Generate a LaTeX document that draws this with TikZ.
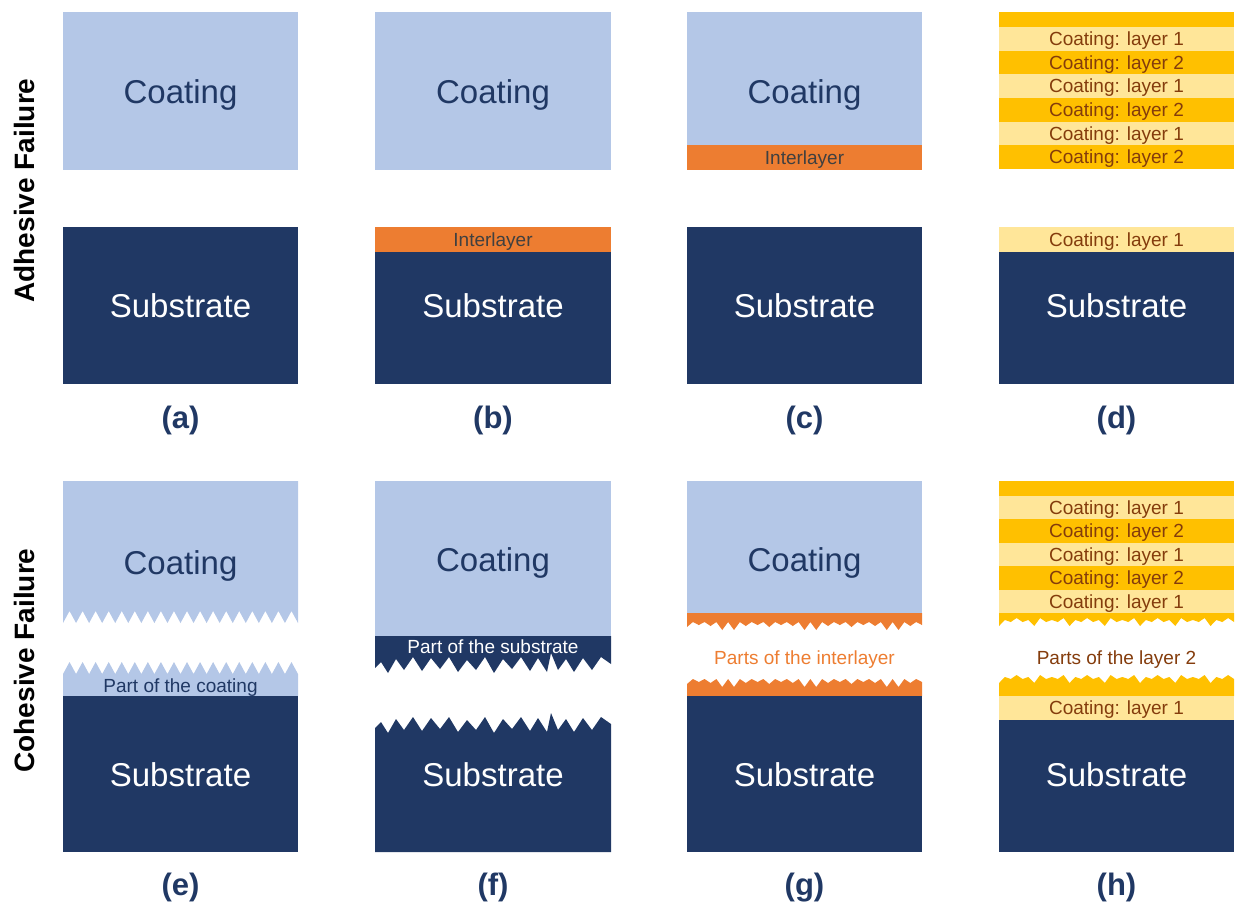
\documentclass[tikz,border=0pt]{standalone}
\usepackage{fontspec}
\setmainfont{Liberation Sans}
\definecolor{coatblue}{HTML}{B4C7E7}
\definecolor{navy}{HTML}{203864}
\definecolor{interor}{HTML}{ED7D31}
\definecolor{layerone}{HTML}{FFE699}
\definecolor{layertwo}{HTML}{FFC000}
\definecolor{browntxt}{HTML}{843C0C}
\definecolor{graytxt}{HTML}{404040}
\begin{document}
\begin{tikzpicture}[x=1pt,y=-1pt,
  big/.style={font=\fontsize{33}{39}\selectfont, anchor=base, inner sep=0pt},
  small/.style={font=\fontsize{19}{23}\selectfont, anchor=base, inner sep=0pt},
  lab/.style={font=\fontsize{31}{37}\selectfont\bfseries, text=navy, anchor=base, inner sep=0pt},
  side/.style={font=\fontsize{28}{33}\selectfont\bfseries, text=black, rotate=90, anchor=base, inner sep=0pt},
  coatfill/.style={fill=coatblue},
  subfill/.style={fill=navy},
  interfill/.style={fill=interor},
  lonefill/.style={fill=layerone},
  ltwofill/.style={fill=layertwo}]
\useasboundingbox (0,0) rectangle (1239,906);

% side titles
\node[side] (adh) at (34,190.5) {Adhesive Failure};
\node[side] (coh) at (34,660.5) {Cohesive Failure};

% ---------------- (a)
\fill[coatfill] (63,12) rectangle (298,170);
\fill[subfill] (63,227) rectangle (298,384);
\node[big,text=navy] (acoat) at (180.5,103.5) {Coating};
\node[big,text=white] (asub) at (180.5,317.5) {Substrate};
\node[lab] (la) at (180.5,428.5) {(a)};

% ---------------- (b)
\fill[coatfill] (375,12) rectangle (611,170);
\fill[interfill] (375,227) rectangle (611,252);
\fill[subfill] (375,252) rectangle (611,384);
\node[big,text=navy] (bcoat) at (493,103.5) {Coating};
\node[small,text=graytxt] (binter) at (493,246.5) {Interlayer};
\node[big,text=white] (bsub) at (493,317.5) {Substrate};
\node[lab] (lb) at (493,428.5) {(b)};

% ---------------- (c)
\fill[coatfill] (687,12) rectangle (922,145);
\fill[interfill] (687,145) rectangle (922,170);
\fill[subfill] (687,227) rectangle (922,384);
\node[big,text=navy] (ccoat) at (804.5,103.5) {Coating};
\node[small,text=graytxt] (cinter) at (804.5,164.5) {Interlayer};
\node[big,text=white] (csub) at (804.5,317.5) {Substrate};
\node[lab] (lc) at (804.5,428.5) {(c)};

% ---------------- (d)
\fill[ltwofill] (999,12) rectangle (1234,27);
\fill[lonefill] (999,27) rectangle (1234,50.67);
\fill[ltwofill] (999,50.67) rectangle (1234,74.33);
\fill[lonefill] (999,74.33) rectangle (1234,98);
\fill[ltwofill] (999,98) rectangle (1234,121.67);
\fill[lonefill] (999,121.67) rectangle (1234,145.33);
\fill[ltwofill] (999,145.33) rectangle (1234,169);
\node[small,text=browntxt] (dl1) at (1116.5,45.6) {Coating: layer 1};
\node[small,text=browntxt] (dl2) at (1116.5,69.3) {Coating: layer 2};
\node[small,text=browntxt] (dl3) at (1116.5,92.9) {Coating: layer 1};
\node[small,text=browntxt] (dl4) at (1116.5,116.6) {Coating: layer 2};
\node[small,text=browntxt] (dl5) at (1116.5,140.3) {Coating: layer 1};
\node[small,text=browntxt] (dl6) at (1116.5,163.9) {Coating: layer 2};
\fill[lonefill] (999,227) rectangle (1234,252);
\fill[subfill] (999,252) rectangle (1234,384);
\node[small,text=browntxt] (dl7) at (1116.5,246.5) {Coating: layer 1};
\node[big,text=white] (dsub) at (1116.5,317.5) {Substrate};
\node[lab] (ld) at (1116.5,428.5) {(d)};

% ---------------- (e)
\fill[coatfill] (63,481) -- (298,481)
  \foreach \k in {0,...,36} { -- ({298-\k*235/36},{ifthenelse(mod(\k,2)==0,623,611)}) } -- cycle;
\fill[coatfill] (63,696)
  \foreach \k in {0,...,36} { -- ({63+\k*235/36},{ifthenelse(mod(\k,2)==0,674,662)}) } -- (298,696) -- cycle;
\fill[subfill] (63,696) rectangle (298,852);
\node[big,text=navy] (ecoat) at (180.5,574.5) {Coating};
\node[small,text=navy] (epart) at (180.5,692) {Part of the coating};
\node[big,text=white] (esub) at (180.5,786.5) {Substrate};
\node[lab] (le) at (180.5,895.5) {(e)};

% ---------------- (f)
\def\fprof{611/664,601/657,592/670,583/658,574/672,566/659,558/670,551/653,547/672,538/658,530/671,521/657,512/669,503/659,494/673,485/657,476/670,467/660,458/672,449/657,440/669,431/658,422/671,413/657,404/670,396/659,388/673,381/662,375/668}
\fill[coatfill] (375,481) rectangle (611,636);
\fill[subfill] (375,636) -- (611,636)
  \foreach \px/\py in \fprof { -- (\px,\py) } -- cycle;
\fill[subfill] (375,852) -- (611,852)
  \foreach \px/\py in \fprof { -- (\px,{\py+60}) } -- cycle;
\node[big,text=navy] (fcoat) at (493,571.5) {Coating};
\node[small,text=white] (fpart) at (493,653) {Part of the substrate};
\node[big,text=white] (fsub) at (493,786.5) {Substrate};
\node[lab] (lf) at (493,895.5) {(f)};

% ---------------- (g)
\fill[coatfill] (687,481) rectangle (922,613);
\fill[interfill] (687,613) -- (922,613)
  \foreach \k in {0,...,40} { -- ({922-\k*235/40},{ifthenelse(mod(\k,2)==0,625+mod(\k*\k*3+\k*5,7),619+mod(\k*\k+2*\k,4))}) } -- cycle;
\fill[interfill] (687,696)
  \foreach \k in {40,39,...,0} { -- ({922-\k*235/40},{ifthenelse(mod(\k,2)==0,625+mod(\k*\k*3+\k*5,7),619+mod(\k*\k+2*\k,4))+57}) } -- (922,696) -- cycle;
\fill[subfill] (687,696) rectangle (922,852);
\node[big,text=navy] (gcoat) at (804.5,571.5) {Coating};
\node[small,text=interor] (gpart) at (804.5,664) {Parts of the interlayer};
\node[big,text=white] (gsub) at (804.5,786.5) {Substrate};
\node[lab] (lg) at (804.5,895.5) {(g)};

% ---------------- (h)
\fill[ltwofill] (999,481) rectangle (1234,496);
\fill[lonefill] (999,496) rectangle (1234,519.4);
\fill[ltwofill] (999,519.4) rectangle (1234,542.8);
\fill[lonefill] (999,542.8) rectangle (1234,566.2);
\fill[ltwofill] (999,566.2) rectangle (1234,589.6);
\fill[lonefill] (999,589.6) rectangle (1234,613);
\fill[ltwofill] (999,613) -- (1234,613)
  \foreach \k in {0,...,40} { -- ({1234-\k*235/40},{ifthenelse(mod(\k,2)==0,622+mod(\k*\k*5+\k*2,6),618+mod(\k*\k*3+\k,4))}) } -- cycle;
\fill[ltwofill] (999,696)
  \foreach \k in {40,39,...,0} { -- ({1234-\k*235/40},{ifthenelse(mod(\k,2)==0,622+mod(\k*\k*5+\k*2,6),618+mod(\k*\k*3+\k,4))+57}) } -- (1234,696) -- cycle;
\fill[lonefill] (999,696) rectangle (1234,720);
\fill[subfill] (999,720) rectangle (1234,852);
\node[small,text=browntxt] (hl1) at (1116.5,514.5) {Coating: layer 1};
\node[small,text=browntxt] (hl2) at (1116.5,537.9) {Coating: layer 2};
\node[small,text=browntxt] (hl3) at (1116.5,561.3) {Coating: layer 1};
\node[small,text=browntxt] (hl4) at (1116.5,584.7) {Coating: layer 2};
\node[small,text=browntxt] (hl5) at (1116.5,608.1) {Coating: layer 1};
\node[small,text=browntxt] (hpart) at (1116.5,664) {Parts of the layer 2};
\node[small,text=browntxt] (hl6) at (1116.5,714.8) {Coating: layer 1};
\node[big,text=white] (hsub) at (1116.5,786.5) {Substrate};
\node[lab] (lh) at (1116.5,895.5) {(h)};
\end{tikzpicture}
\end{document}
